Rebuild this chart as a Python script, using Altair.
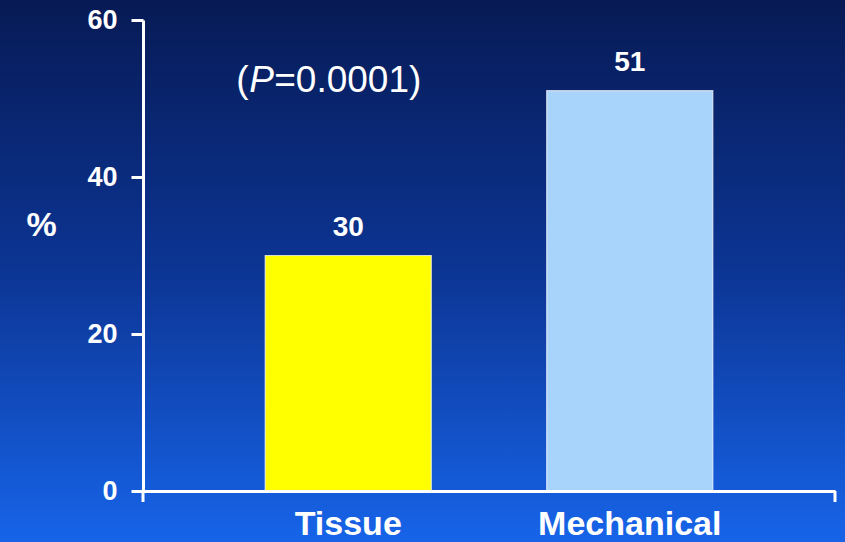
import altair as alt
import pandas as pd

# Share of patients (%) by valve type
categories = ["Tissue", "Mechanical"]
percent = [30, 51]
bar_colors = ["#ffff00", "#a8d3fb"]
y_ticks = [0, 20, 40, 60]

# P-value annotation, split so the "P" can be set in italics
p_parts = ["(", "P", "=0.0001)"]
p_styles = ["normal", "italic", "normal"]
p_offsets = [-112, -99, -74]
p_label_y = 50.8

W, H = 692, 471
FONT = "Liberation Sans"

bars_df = pd.DataFrame({"valve": categories, "pct": percent, "color": bar_colors})
one_row = pd.DataFrame({"k": [0]})

xscale = alt.Scale(domain=categories, paddingInner=0.41, paddingOuter=0.434)
yscale = alt.Scale(domain=[0, 60], nice=False)

# Slide-style vertical gradient behind everything
backdrop = alt.Chart(one_row).mark_rect(
    fill=alt.Gradient(
        gradient="linear",
        stops=[
            alt.GradientStop(color="#071a55", offset=0),
            alt.GradientStop(color="#0c3594", offset=0.5),
            alt.GradientStop(color="#1764e9", offset=1),
        ],
        x1=0, x2=0, y1=0, y2=1,
    ),
    strokeWidth=0,
).encode(x=alt.value(-143), x2=alt.value(W + 10), y=alt.value(-20), y2=alt.value(H + 51))

bars = alt.Chart(bars_df).mark_bar(
    stroke="white", strokeWidth=1.2, strokeOpacity=0.7
).encode(
    x=alt.X(
        "valve:N", sort=categories, scale=xscale,
        axis=alt.Axis(
            title=None, labelAngle=0, ticks=False, labelLimit=0,
            labelFont=FONT, labelFontSize=34, labelFontWeight="bold",
            labelColor="white", labelPadding=16,
            domainColor="white", domainWidth=3, zindex=1,
        ),
    ),
    y=alt.Y(
        "pct:Q", scale=yscale,
        axis=alt.Axis(
            values=y_ticks, grid=False,
            tickSize=12, tickWidth=3, tickColor="white",
            domainColor="white", domainWidth=3,
            labelFont=FONT, labelFontSize=27, labelFontWeight="bold",
            labelColor="white", labelPadding=14,
            title="%", titleAngle=0, titleFont=FONT, titleFontSize=34,
            titleFontWeight="bold", titleColor="white",
            titleX=-102, titleY=205, titleAlign="center", titleBaseline="middle",
            zindex=1,
        ),
    ),
    color=alt.Color("color:N", scale=None),
)

values = alt.Chart(bars_df).mark_text(
    font=FONT, fontSize=28, fontWeight="bold", color="white",
    baseline="alphabetic", dy=-20,
).encode(
    x=alt.X("valve:N", sort=categories, scale=xscale),
    y=alt.Y("pct:Q", scale=yscale),
    text="pct:Q",
)

# Small downward ticks at both ends of the category axis
end_ticks = [
    alt.Chart(one_row).mark_rule(color="white", strokeWidth=3).encode(
        x=alt.value(px), y=alt.value(H), y2=alt.value(H + 11)
    )
    for px in (0, W)
]

p_layers = [
    alt.Chart(pd.DataFrame({"valve": ["Tissue"], "y": [p_label_y], "t": [part]})).mark_text(
        font=FONT, fontSize=37, fontStyle=style, color="white",
        align="left", baseline="alphabetic", dx=off,
    ).encode(
        x=alt.X("valve:N", sort=categories, scale=xscale),
        y=alt.Y("y:Q", scale=yscale),
        text="t:N",
    )
    for part, style, off in zip(p_parts, p_styles, p_offsets)
]

chart = alt.layer(backdrop, bars, values, *end_ticks, *p_layers).properties(
    width=W, height=H,
    padding={"left": 143, "top": 20, "right": 10, "bottom": 51},
    autosize=alt.AutoSizeParams(type="none"),
).configure(background="#0c3594").configure_view(stroke=None)

chart.save("out.html", embed_options={"renderer": "svg", "actions": False})
